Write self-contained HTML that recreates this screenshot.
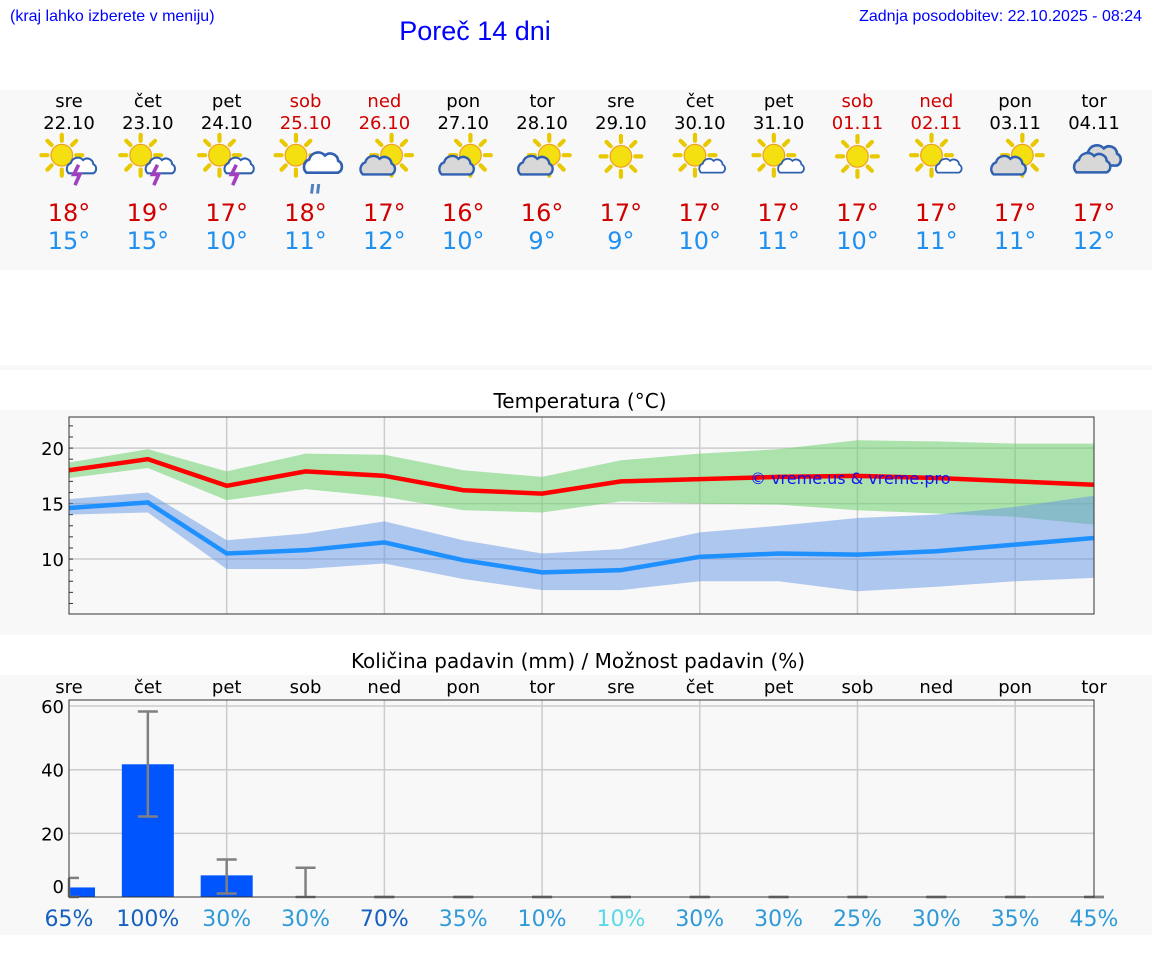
<!DOCTYPE html>
<html><head><meta charset="utf-8"><style>
body{margin:0;background:#fff;width:1152px;height:975px;overflow:hidden;font-family:"DejaVu Sans","Liberation Sans",sans-serif}
</style></head><body>
<svg id="root" width="1152" height="975" xmlns="http://www.w3.org/2000/svg" font-family="DejaVu Sans, Liberation Sans, sans-serif">
<defs>
<g id="sun">
 <g stroke="#e8c800" stroke-width="3.5" stroke-linecap="round">
  <line x1="0" y1="-12" x2="0" y2="-17"/><line x1="0" y1="12" x2="0" y2="17"/>
  <line x1="-12" y1="0" x2="-17" y2="0"/><line x1="12" y1="0" x2="17" y2="0"/>
  <line x1="8.5" y1="8.5" x2="12" y2="12"/><line x1="-8.5" y1="-8.5" x2="-12" y2="-12"/>
  <line x1="8.5" y1="-8.5" x2="12" y2="-12"/><line x1="-8.5" y1="8.5" x2="-12" y2="12"/>
 </g>
 <circle r="9" fill="#f4e010" stroke="#f0a020" stroke-width="1"/>
</g>
<g id="cloud"><path d="M-12,6 a6,6 0 0 1 2,-10 a7,7 0 0 1 12,-3 a6,6 0 0 1 10,4 a5,5 0 0 1 0,9 z" fill="#d8d8d8" stroke="#3060b0" stroke-width="2"/></g>
<g id="scloud"><path d="M-12,6 a6,6 0 0 1 2,-10 a7,7 0 0 1 12,-3 a6,6 0 0 1 10,4 a5,5 0 0 1 0,9 z" fill="#fff" stroke="#3060b0" stroke-width="2"/></g>
</defs>
<g>
<text x="10" y="21" font-family="Liberation Sans, sans-serif" font-size="16" fill="#0000ff">(kraj lahko izberete v meniju)</text>
<text x="475" y="40" text-anchor="middle" font-family="Liberation Sans, sans-serif" font-size="27" fill="#0000ff">Poreč 14 dni</text>
<text x="1142" y="21" text-anchor="end" font-family="Liberation Sans, sans-serif" font-size="16" fill="#0000ff">Zadnja posodobitev: 22.10.2025 - 08:24</text>
</g>
<rect x="0" y="90" width="1152" height="180" fill="#f8f8f8"/>
<rect x="0" y="365" width="1152" height="5" fill="#f8f8f8"/>
<rect x="0" y="410" width="1152" height="225" fill="#f8f8f8"/>
<rect x="0" y="675" width="1152" height="260" fill="#f8f8f8"/>
<g id="days"></g>
<text x="580" y="408" text-anchor="middle" font-size="20" fill="#000">Temperatura (°C)</text>
<g id="tchart"></g>
<text x="578" y="668" text-anchor="middle" font-size="20" fill="#000">Količina padavin (mm) / Možnost padavin (%)</text>
<g id="pchart"></g>
</svg>
<script>
const days=["sre","čet","pet","sob","ned","pon","tor","sre","čet","pet","sob","ned","pon","tor"];
const dates=["22.10","23.10","24.10","25.10","26.10","27.10","28.10","29.10","30.10","31.10","01.11","02.11","03.11","04.11"];
const icons=["storm","storm","storm","rain","pc","pc","pc","sun","sc","sc","sun","sc","pc","cloudy"];
const tMax=[18,19,17,18,17,16,16,17,17,17,17,17,17,17];
const tMin=[15,15,10,11,12,10,9,9,10,11,10,11,11,12];
const maxLine=[18.0,19.0,16.6,17.9,17.5,16.2,15.9,17.0,17.2,17.4,17.5,17.3,17.0,16.7];
const maxHi=[18.7,19.9,17.9,19.5,19.4,18.0,17.4,18.9,19.5,19.9,20.7,20.6,20.4,20.4];
const maxLo=[17.3,18.2,15.3,16.3,15.6,14.4,14.2,15.2,15.0,14.9,14.4,14.1,13.8,13.1];
const minLine=[14.6,15.1,10.5,10.8,11.5,9.9,8.8,9.0,10.2,10.5,10.4,10.7,11.3,11.9];
const minHi=[15.4,16.0,11.7,12.3,13.4,11.7,10.5,10.9,12.4,13.0,13.7,14.0,14.7,15.7];
const minLo=[14.0,14.2,9.1,9.1,9.6,8.2,7.2,7.2,8.0,8.0,7.1,7.5,8.0,8.3];
const tTicks=[10,15,20];
const precip=[3,41.7,6.8,0,0,0,0,0,0,0,0,0,0,0];
const pHi=[6,58.3,11.8,9.2,0,0,0,0,0,0,0,0,0,0];
const pLo=[0,25.3,1.1,0,0,0,0,0,0,0,0,0,0,0];
const pProb=[65,100,30,30,70,35,10,10,30,30,25,30,35,45];
const pTicks=[0,20,40,60];
const NS="http://www.w3.org/2000/svg";
function mk(tag,attrs,parent,txt){const e=document.createElementNS(NS,tag);for(const k in attrs)e.setAttribute(k,attrs[k]);if(txt!==undefined)e.textContent=txt;parent.appendChild(e);return e;}
const X0=69,X1=1094;
const xs=i=>X0+i*(X1-X0)/13;
const dg=document.getElementById('days');
days.forEach((d,i)=>{
 const weekend=(d==="sob"||d==="ned");const c=weekend?"#d00000":"#000";
 const g=mk('g',{},dg);
 
 
 mk('text',{x:xs(i),y:107,'text-anchor':'middle','font-size':18,fill:c},g,d);
 mk('text',{x:xs(i),y:129,'text-anchor':'middle','font-size':18,fill:c},g,dates[i]);
 const ig=mk('g',{transform:`translate(${xs(i)},160) scale(1.2)`},g);
 
 
 const t=icons[i];
 if(t==="storm"){mk('use',{href:'#sun',transform:'translate(-6,-4)'},ig);mk('use',{href:'#scloud',transform:'translate(10,6) scale(0.85)'},ig);mk('path',{d:'M8,4 l-4,8 h5 l-4,9',fill:'none',stroke:'#a040c0','stroke-width':3},ig);}
 else if(t==="rain"){mk('use',{href:'#sun',transform:'translate(-8,-4)'},ig);mk('use',{href:'#scloud',transform:'translate(14,4) scale(1.1)'},ig);mk('path',{d:'M6,20 l-1,8 M11,20 l-1,8',stroke:'#5080c0','stroke-width':2.5},ig);}
 else if(t==="pc"){mk('use',{href:'#sun',transform:'translate(6,-4)'},ig);mk('use',{href:'#cloud',transform:'translate(-6,6)'},ig);}
 else if(t==="sun"){mk('use',{href:'#sun',transform:'translate(0,-3)'},ig);}
 else if(t==="sc"){mk('use',{href:'#sun',transform:'translate(-4,-4)'},ig);mk('use',{href:'#scloud',transform:'translate(10,6) scale(0.75)'},ig);}
 else {mk('use',{href:'#cloud',transform:'translate(6,-2) scale(1.1)'},ig);mk('use',{href:'#cloud',transform:'translate(-2,4) scale(1.05)'},ig);}
 mk('text',{x:xs(i),y:221,'text-anchor':'middle','font-size':24,fill:'#d00000'},g,tMax[i]+"°");
 mk('text',{x:xs(i),y:249,'text-anchor':'middle','font-size':24,fill:'#2090f0'},g,tMin[i]+"°");
});
const tg=document.getElementById('tchart');
const TY0=417,TY1=614,TMIN=5.05,TMAX=22.8;
const ty=v=>TY1-(v-TMIN)/(TMAX-TMIN)*(TY1-TY0);
mk('rect',{x:X0,y:TY0,width:X1-X0,height:TY1-TY0,fill:'#f8f8f8'},tg);
for(let i=2;i<14;i+=2)mk('line',{x1:xs(i),x2:xs(i),y1:TY0,y2:TY1,stroke:'#ccc','stroke-width':1.5},tg);
tTicks.forEach(v=>{mk('line',{x1:X0,x2:X1,y1:ty(v),y2:ty(v),stroke:'#ccc','stroke-width':1.5},tg);
 const l=mk('text',{x:X0-5,y:ty(v)+7,'text-anchor':'end','font-size':18,fill:'#000'},tg,v);
 
 });
for(let v=6;v<=22;v++)mk('line',{x1:X0,x2:X0+4,y1:ty(v),y2:ty(v),stroke:'#333'},tg);
function band(hi,lo,fill,name){let d='M'+hi.map((v,i)=>xs(i)+','+ty(v)).join(' L')+' L'+lo.map((v,i)=>xs(i)+','+ty(v)).reverse().join(' L')+'Z';
 const p=mk('path',{d,fill},tg);}
function line(a,col,name){const p=mk('path',{d:'M'+a.map((v,i)=>xs(i)+','+ty(v)).join(' L'),fill:'none',stroke:col,'stroke-width':4.5},tg);
 }
band(maxHi,maxLo,'rgba(110,210,110,0.55)','max-temp-range');
band(minHi,minLo,'rgba(100,150,230,0.5)','min-temp-range');
line(maxLine,'#ff0000','max-temp-line');
line(minLine,'#1e90ff','min-temp-line');
mk('rect',{x:X0,y:TY0,width:X1-X0,height:TY1-TY0,fill:'none',stroke:'#333','stroke-width':1},tg);
const wm=mk('text',{x:750,y:484,'font-size':16,fill:'#0000ff',opacity:0.9},tg,'© vreme.us & vreme.pro');

const pg=document.getElementById('pchart');
const PY0=700,PY1=897,PMAX=61.9;
const py=v=>PY1-v/PMAX*(PY1-PY0);
mk('rect',{x:X0,y:PY0,width:X1-X0,height:PY1-PY0,fill:'#f8f8f8'},pg);
for(let i=2;i<14;i+=2)mk('line',{x1:xs(i),x2:xs(i),y1:PY0,y2:PY1,stroke:'#ccc','stroke-width':1.5},pg);
pTicks.forEach(v=>{if(v>0)mk('line',{x1:X0,x2:X1,y1:py(v),y2:py(v),stroke:'#ccc','stroke-width':1.5},pg);
 const l=mk('text',{x:X0-5,y:py(v)+(v==0?-4:7),'text-anchor':'end','font-size':18,fill:'#000'},pg,v);
 });
days.forEach((d,i)=>{const l=mk('text',{x:xs(i),y:693,'text-anchor':'middle','font-size':18,fill:'#000'},pg,d);
 });
precip.forEach((v,i)=>{if(v<=0)return;const x=Math.max(X0,xs(i)-26),w=xs(i)+26-x;
 const b=mk('rect',{x,y:py(v),width:w,height:PY1-py(v),fill:'#0055ff'},pg);
 });
pHi.forEach((v,i)=>{const x=xs(i);const g=mk('g',{stroke:'#808080','stroke-width':2.5},pg);
 
 mk('line',{x1:x,x2:x,y1:py(v),y2:py(pLo[i])},g);
 mk('line',{x1:Math.max(X0,x-10),x2:x+10,y1:py(v),y2:py(v)},g);
 mk('line',{x1:Math.max(X0,x-10),x2:x+10,y1:py(pLo[i]),y2:py(pLo[i])},g);});
mk('rect',{x:X0,y:PY0,width:X1-X0,height:PY1-PY0,fill:'none',stroke:'#333','stroke-width':1},pg);
const probCols=['#1560c0','#1560c0','#2e9ad8','#2e9ad8','#1560c0','#2e9ad8','#2e9ad8','#5ad8e8','#2e9ad8','#2e9ad8','#2e9ad8','#2e9ad8','#2e9ad8','#2e9ad8'];
pProb.forEach((p,i)=>{const l=mk('text',{x:xs(i),y:926,'text-anchor':'middle','font-size':22,fill:probCols[i]},pg,p+'%');
 });
</script>
</body></html>
